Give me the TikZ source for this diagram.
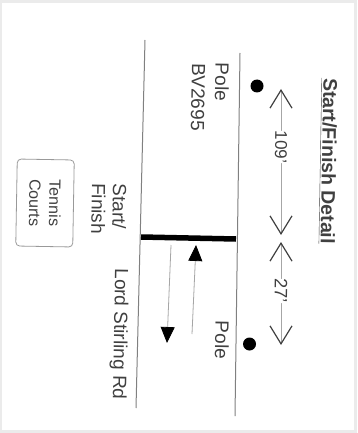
\documentclass[tikz,border=0pt]{standalone}
\usepackage{fontspec}
\setmainfont{Liberation Sans}
\usetikzlibrary{arrows.meta}

\begin{document}
\begin{tikzpicture}[x=1pt,y=-1pt]
	\tikzstyle{every node}=[inner sep=0pt, text=black!75, font=\fontsize{19}{21}\selectfont]
	\tikzstyle{txt}=[rotate=-91, align=left]
	\tikzstyle{pt}=[circle, fill=black, minimum width=13pt]
	\tikzstyle{rd}=[black!50, line width=1pt]
	\tikzstyle{dim}=[black!35, line width=.8pt]
	\tikzstyle{open}=[{Straight Barb[length=18pt,width=22pt,black!75,line width=1.2pt]}-{Straight Barb[length=18pt,width=22pt,black!75,line width=1.2pt]}]
	\tikzstyle{dir}=[black!35, line width=.8pt, -{Triangle[length=16pt,width=14pt,black]}]
	\useasboundingbox (0,0) rectangle (357,433);
	\fill[black!8] (0,0) rectangle (357,433);
	\fill[white] (2,3) rectangle (354,430);
	% road
	\draw (145,40) coordinate (l1);
	\draw (136,408) coordinate (l2);
	\draw (240,53) coordinate (r1);
	\draw (235,416) coordinate (r2);
	\draw[rd] (l1) -- (l2);
	\draw[rd] (r1) -- (r2);
	\draw (141,237) coordinate (b1);
	\draw (236,239) coordinate (b2);
	\draw[line width=5.5pt] (b1) -- (b2);
	% direction
	\draw (192,334) coordinate (u1);
	\draw (196,245) coordinate (u2);
	\draw (171,245) coordinate (d1);
	\draw (167,343) coordinate (d2);
	\draw[dir] (u1) -- (u2);
	\draw[dir] (d1) -- (d2);
	% poles
	\draw (257,86) node (p1) [pt] {};
	\draw (249.5,344) node (p2) [pt] {};
	\draw (222,82) node (t1) [txt] {Pole};
	\draw (198,97) node (t2) [txt] {BV2695};
	\draw (222,340) node (t3) [txt] {Pole};
	% dimensions
	\draw (281,89) coordinate (a1);
	\draw (281,235) coordinate (a2);
	\draw (281,242) coordinate (a3);
	\draw (281,345) coordinate (a4);
	\draw[dim,open] (a1) -- (a2);
	\draw[dim,open] (a3) -- (a4);
	\draw (281,147) node (m1) [txt, fill=white, inner ysep=3pt, font=\fontsize{17}{21}\selectfont] {109'};
	\draw (281,291) node (m2) [txt, fill=white, inner ysep=3pt, font=\fontsize{18}{21}\selectfont] {27'};
	% labels
	\draw (328,161) node (title) [txt, font=\fontsize{19.5}{21}\selectfont\bfseries] {\underline{Start/Finish Detail}};
	\draw (109,209) node (sf) [txt] {Start/\\Finish};
	\draw (119,334) node (lsr) [txt] {Lord Stirling Rd};
	\draw (45,203) node (tc) [draw=black!40, line width=.8pt, rounded corners=4pt, rotate=-91, minimum width=87pt, minimum height=57pt, align=center, font=\fontsize{16}{20}\selectfont] {Tennis\\Courts};
\end{tikzpicture}
\end{document}
